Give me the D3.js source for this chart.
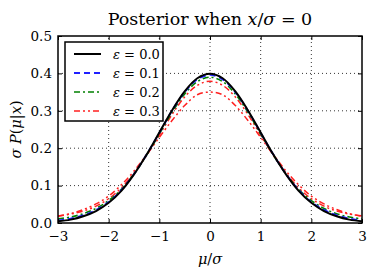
<!DOCTYPE html>
<html>
<head>
<meta charset="utf-8">
<script src="https://cdn.jsdelivr.net/npm/d3@7"></script>
<style>
  body { margin: 0; background: #fff; }
  text { font-family: "DejaVu Serif", "Liberation Serif", serif; fill: #000; }
</style>
</head>
<body>
<div id="chart"></div>
<script>
// mu/sigma sample points (curves are symmetric)
const mu = [-3, -2.75, -2.5, -2.25, -2, -1.75, -1.5, -1.25, -1, -0.75, -0.5, -0.25, 0,
            0.25, 0.5, 0.75, 1, 1.25, 1.5, 1.75, 2, 2.25, 2.5, 2.75, 3];

function mirror(half) { // half: values from mu=0 to mu=3
    return half.slice(1).reverse().concat(half);
}

const eps00 = mirror([0.399, 0.387, 0.352, 0.301, 0.242, 0.183, 0.130, 0.086, 0.054, 0.032, 0.018, 0.009, 0.0044]);
const eps01 = mirror([0.396, 0.384, 0.350, 0.300, 0.241, 0.183, 0.131, 0.088, 0.056, 0.035, 0.021, 0.012, 0.007]);
const eps02 = mirror([0.390, 0.378, 0.345, 0.296, 0.238, 0.182, 0.131, 0.090, 0.060, 0.039, 0.025, 0.016, 0.011]);
const eps03 = mirror([0.379, 0.368, 0.337, 0.290, 0.235, 0.181, 0.133, 0.094, 0.065, 0.045, 0.032, 0.024, 0.019]);
const eps03b = mirror([0.350, 0.343, 0.314, 0.274, 0.229, 0.183, 0.139, 0.102, 0.072, 0.051, 0.036, 0.025, 0.018]);

const xTicks = [-3, -2, -1, 0, 1, 2, 3];
const yTicks = [0.0, 0.1, 0.2, 0.3, 0.4, 0.5];

const series = [
    { label: '0.0', values: eps00, color: '#000000', dash: null, w: 2 },
    { label: '0.1', values: eps01, color: '#2020ff', dash: '6,4', w: 1.8 },
    { label: '0.2', values: eps02, color: '#008000', dash: '6,3,2,3', w: 1.6 },
    { label: '0.3', values: eps03, color: '#ff2020', dash: '6,3,2,3,2,3', w: 1.5 },
    { label: null, values: eps03b, color: '#ff2020', dash: '6,3,2,3,2,3', w: 1.5 }
];

const width = 374, height = 274;
const margin = { left: 58, right: 12, top: 36, bottom: 51 };

const svg = d3.select('#chart').append('svg')
    .attr('width', width)
    .attr('height', height);

const x = d3.scaleLinear().domain([-3, 3]).range([margin.left, width - margin.right]);
const y = d3.scaleLinear().domain([0, 0.5]).range([height - margin.bottom, margin.top]);

// grid
const grid = svg.append('g');
grid.selectAll('line.gx')
    .data(xTicks.slice(1, -1))
    .enter().append('line')
    .attr('x1', d => x(d)).attr('x2', d => x(d))
    .attr('y1', y(0)).attr('y2', y(0.5))
    .attr('stroke', '#000').attr('stroke-width', 0.8).attr('stroke-dasharray', '1,3');
grid.selectAll('line.gy')
    .data(yTicks.slice(1, -1))
    .enter().append('line')
    .attr('x1', x(-3)).attr('x2', x(3))
    .attr('y1', d => y(d)).attr('y2', d => y(d))
    .attr('stroke', '#000').attr('stroke-width', 0.8).attr('stroke-dasharray', '1,3');

// curves
const line = d3.line()
    .x((d, i) => x(mu[i]))
    .y(d => y(d))
    .curve(d3.curveCatmullRom);

svg.append('clipPath').attr('id', 'clip')
    .append('rect')
    .attr('x', x(-3)).attr('y', y(0.5))
    .attr('width', x(3) - x(-3)).attr('height', y(0) - y(0.5));

svg.append('g').attr('clip-path', 'url(#clip)')
    .selectAll('path')
    .data(series.slice().reverse())
    .enter().append('path')
    .attr('d', d => line(d.values))
    .attr('fill', 'none')
    .attr('stroke', d => d.color)
    .attr('stroke-width', d => d.w)
    .attr('stroke-dasharray', d => d.dash);

// axes (ticks inside, on all four sides)
function styleAxis(g) {
    g.select('.domain').remove();
    g.selectAll('.tick line').attr('stroke', '#000').attr('stroke-width', 1);
    g.selectAll('.tick text')
        .style('font-family', '"DejaVu Serif", "Liberation Serif", serif')
        .style('font-size', '13.5px');
}

svg.append('g')
    .attr('transform', `translate(0,${y(0)})`)
    .call(d3.axisBottom(x).tickValues(xTicks).tickSize(-4).tickPadding(8)
        .tickFormat(d => d < 0 ? '\u2212' + Math.abs(d) : d))
    .call(styleAxis);
svg.append('g')
    .attr('transform', `translate(0,${y(0.5)})`)
    .call(d3.axisTop(x).tickValues(xTicks).tickSize(-4).tickFormat(''))
    .call(styleAxis);
svg.append('g')
    .attr('transform', `translate(${x(-3)},0)`)
    .call(d3.axisLeft(y).tickValues(yTicks).tickSize(-4).tickPadding(6).tickFormat(d3.format('.1f')))
    .call(styleAxis);
svg.append('g')
    .attr('transform', `translate(${x(3)},0)`)
    .call(d3.axisRight(y).tickValues(yTicks).tickSize(-4).tickFormat(''))
    .call(styleAxis);

// frame
svg.append('rect')
    .attr('x', x(-3)).attr('y', y(0.5))
    .attr('width', x(3) - x(-3)).attr('height', y(0) - y(0.5))
    .attr('fill', 'none').attr('stroke', '#000').attr('stroke-width', 1.5);

// title
const title = svg.append('text')
    .attr('x', (x(-3) + x(3)) / 2).attr('y', 25)
    .attr('text-anchor', 'middle')
    .style('font-size', '17.5px');
title.append('tspan').text('Posterior when ');
title.append('tspan').style('font-style', 'italic').text('x');
title.append('tspan').text('/');
title.append('tspan').style('font-style', 'italic').text('σ');
title.append('tspan').text(' = 0');

// x label
const xl = svg.append('text')
    .attr('x', (x(-3) + x(3)) / 2).attr('y', 264)
    .attr('text-anchor', 'middle')
    .style('font-size', '14.5px');
xl.append('tspan').style('font-style', 'italic').text('μ');
xl.append('tspan').text('/');
xl.append('tspan').style('font-style', 'italic').text('σ');

// y label
const yl = svg.append('text')
    .attr('transform', `translate(21,${(y(0) + y(0.5)) / 2}) rotate(-90)`)
    .attr('text-anchor', 'middle')
    .style('font-size', '14.5px');
yl.append('tspan').style('font-style', 'italic').text('σ P');
yl.append('tspan').text('(');
yl.append('tspan').style('font-style', 'italic').text('μ');
yl.append('tspan').text('|');
yl.append('tspan').style('font-style', 'italic').text('x');
yl.append('tspan').text(')');

// legend
const legend = svg.append('g');
legend.append('rect')
    .attr('x', 65).attr('y', 42).attr('width', 98).attr('height', 79)
    .attr('fill', '#fff').attr('stroke', '#000').attr('stroke-width', 1.5);

const items = legend.selectAll('g.item')
    .data(series.filter(d => d.label))
    .enter().append('g')
    .attr('transform', (d, i) => `translate(0,${54 + i * 19})`);
items.append('line')
    .attr('x1', 74).attr('x2', 101)
    .attr('stroke', d => d.color).attr('stroke-width', d => d.w)
    .attr('stroke-dasharray', d => d.dash);
const lt = items.append('text')
    .attr('x', 113).attr('y', 5)
    .style('font-size', '13px');
lt.append('tspan').style('font-style', 'italic').text('ε');
lt.append('tspan').text(d => ' = ' + d.label);
</script>
</body>
</html>
